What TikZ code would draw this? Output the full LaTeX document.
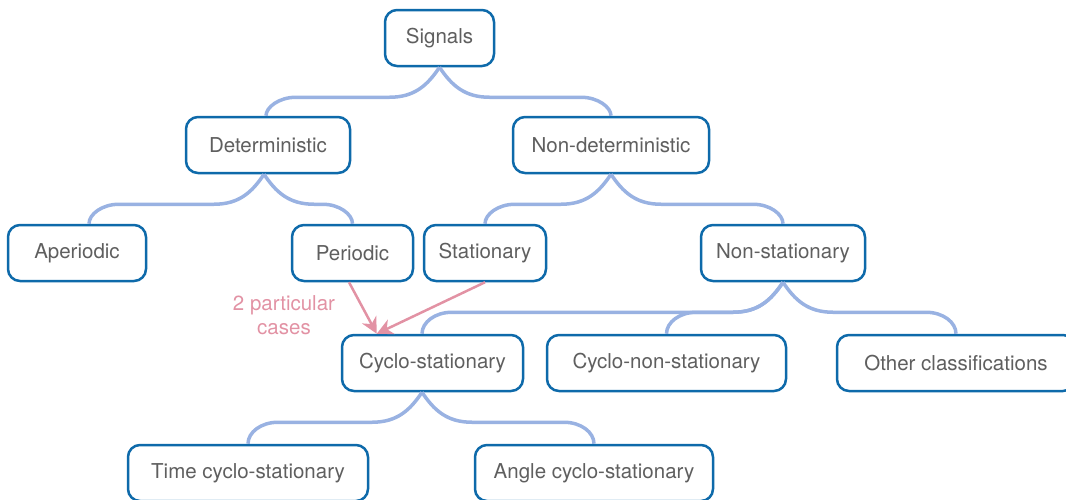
\documentclass[tikz,border=0pt]{standalone}
\usepackage{fontspec}
\setmainfont{TeX Gyre Heros}
\usetikzlibrary{calc,arrows.meta}

\definecolor{boxline}{RGB}{14,106,170}
\definecolor{branchline}{RGB}{153,178,226}
\definecolor{labeltext}{RGB}{95,95,95}
\definecolor{notecolor}{RGB}{226,146,164}

\tikzset{
  topic/.style={draw=boxline, fill=white, line width=2.5pt, rounded corners=12pt,
    minimum height=56pt, inner sep=0pt, text=labeltext,
    font=\fontsize{20.5}{24}\selectfont},
  branch/.style={draw=branchline, line width=3.5pt},
  casearrow/.style={draw=notecolor, line width=2.5pt,
    -{Stealth[length=16pt,width=16pt,inset=5pt]}},
  casenote/.style={text=notecolor, align=center, inner sep=0pt,
    font=\fontsize{20.5}{24}\selectfont},
}

% Mind-map branch: leaves the parent downwards, runs level, then bends down into the child
\newcommand\branchto[2]{%
  \draw[branch] let \p1=(#1), \p2=(#2), \n1={sign(\x2-\x1)} in
    (\x1,\y1) .. controls (\x1+\n1*12pt,\y1-18pt) and (\x1+\n1*25pt,\y1-30pt)
      .. (\x1+\n1*50pt,\y1-30pt)
    -- (\x2-\n1*30pt,\y1-30pt)
      .. controls (\x2-\n1*13pt,\y1-30pt) and (\x2,\y1-40pt) .. (\x2,\y2);}

\begin{document}
\begin{tikzpicture}[x=1pt,y=-1pt]
\useasboundingbox (0,0) rectangle (1066,499);
\clip (0,0) rectangle (1066,499);

% topics
\node[topic, minimum width=109pt] (sig)   at (439.5,38) {Signals};
\node[topic, minimum width=164pt] (det)   at (268,145)  {Deterministic};
\node[topic, minimum width=196pt] (ndet)  at (611,145)  {Non-deterministic};
\node[topic, minimum width=138pt] (aper)  at (77,253)   {Aperiodic};
\node[topic, minimum width=121pt] (per)   at (352.5,253){Periodic};
\node[topic, minimum width=122pt] (stat)  at (485,253)  {Stationary};
\node[topic, minimum width=164pt] (nstat) at (783,253)  {Non-stationary};
\node[topic, minimum width=181pt] (cyc)   at (432.5,363){Cyclo-stationary};
\node[topic, minimum width=239pt] (cnst)  at (666.5,363){Cyclo-non-stationary};
\node[topic, minimum width=238pt] (other) at (956,363)  {Other classifications};
\node[topic, minimum width=240pt] (tcyc)  at (248,473)  {Time cyclo-stationary};
\node[topic, minimum width=238pt] (acyc)  at (594,473)  {Angle cyclo-stationary};

% branches
\branchto{sig.south}{$(det.north)+(-2,0)$}
\branchto{sig.south}{ndet.north}
\branchto{$(det.south)+(-4,0)$}{$(aper.north)+(12,0)$}
\branchto{$(det.south)+(-4,0)$}{per.north}
\branchto{ndet.south}{stat.north}
\branchto{ndet.south}{nstat.north}
\branchto{nstat.south}{$(cyc.north)+(-10.5,0)$}
\branchto{nstat.south}{cnst.north}
\branchto{nstat.south}{other.north}
\branchto{$(cyc.south)+(-10.5,0)$}{tcyc.north}
\branchto{$(cyc.south)+(-10.5,0)$}{acyc.north}

% special cases leading to cyclo-stationarity
\coordinate (casetip) at ($(cyc.north west)+(36,0)$);
\draw[casearrow] ($(per.south)+(-3.5,0)$) -- (casetip);
\draw[casearrow] (stat.south) -- (casetip);
\node[casenote] (cases) at (284,315) {2 particular\\cases};
\end{tikzpicture}
\end{document}
